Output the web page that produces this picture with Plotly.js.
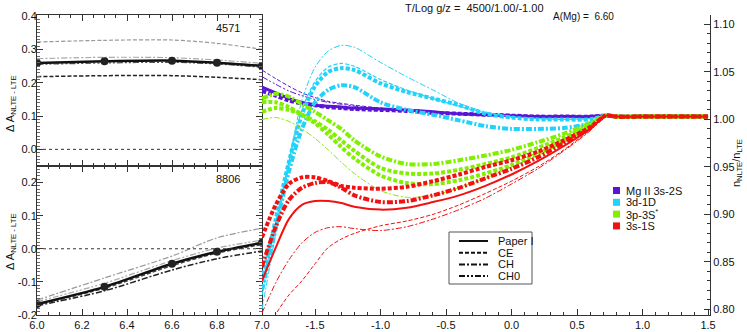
<!DOCTYPE html>
<html>
<head>
<meta charset="utf-8">
<script src="https://cdn.plot.ly/plotly-3.0.1.min.js"></script>
<style>
  html, body { margin: 0; padding: 0; background: #fff; }
  #chart { width: 747px; height: 332px; }
</style>
</head>
<body>
<div id="chart"></div>
<script>
// NLTE abundance corrections vs A(Mg) (left) and departure coefficients vs log tau (right)

// left panels: abundance grid
const abund = [6.0, 6.3, 6.6, 6.8, 7.0];

// 4571 line
const l4571_paper = [0.259, 0.264, 0.266, 0.260, 0.250];
const l4571_ce = [0.218, 0.221, 0.221, 0.216, 0.209];
const l4571_ceGrey = [0.322, 0.327, 0.328, 0.318, 0.300];
const l4571_ch = [0.272, 0.276, 0.275, 0.268, 0.258];
const l4571_ch0 = [0.255, 0.259, 0.261, 0.256, 0.246];

// 8806 line
const l8806_paper = [-0.167, -0.115, -0.045, -0.009, 0.018];
const l8806_ce = [-0.169, -0.119, -0.051, -0.013, 0.013];
const l8806_ch = [-0.155, -0.088, -0.022, 0.033, 0.062];
const l8806_ch0 = [-0.172, -0.127, -0.064, -0.030, -0.007];
const l8806_dot = [-0.160, -0.104, -0.036, 0.002, 0.026];

// right panel: log tau grid
const logTau = [-1.905, -1.8, -1.7, -1.6, -1.5, -1.4, -1.3, -1.2, -1.0, -0.8, -0.6, -0.4, -0.2, 0.0, 0.2, 0.4, 0.6, 0.72, 0.8, 1.0, 1.5];

// Mg II 3s-2S
const mg2_paper = [1.034, 1.028, 1.022, 1.018, 1.015, 1.014, 1.013, 1.012, 1.011, 1.010, 1.008, 1.006, 1.005, 1.004, 1.003, 1.003, 1.003, 1.004, 1.003, 1.003, 1.003];
const mg2_ce = [1.030, 1.025, 1.020, 1.017, 1.015, 1.013, 1.012, 1.011, 1.010, 1.009, 1.007, 1.006, 1.005, 1.004, 1.003, 1.003, 1.003, 1.004, 1.003, 1.003, 1.003];
const mg2_ch = [1.052, 1.043, 1.035, 1.028, 1.023, 1.019, 1.017, 1.015, 1.012, 1.010, 1.008, 1.006, 1.005, 1.004, 1.003, 1.003, 1.003, 1.004, 1.003, 1.003, 1.003];
const mg2_ch0 = [1.045, 1.037, 1.030, 1.025, 1.021, 1.018, 1.016, 1.014, 1.012, 1.010, 1.008, 1.006, 1.005, 1.004, 1.003, 1.003, 1.003, 1.004, 1.003, 1.003, 1.003];

// 3d-1D
const d1d_paper = [0.830, 0.895, 0.955, 1.005, 1.035, 1.050, 1.054, 1.052, 1.038, 1.029, 1.022, 1.015, 1.006, 1.002, 1.000, 1.000, 1.000, 1.004, 1.003, 1.003, 1.003];
const d1d_ce = [0.815, 0.890, 0.955, 1.010, 1.040, 1.055, 1.059, 1.056, 1.042, 1.031, 1.022, 1.014, 1.007, 1.003, 1.001, 1.000, 1.001, 1.004, 1.003, 1.003, 1.003];
const d1d_ch = [0.820, 0.885, 0.945, 0.990, 1.018, 1.031, 1.036, 1.034, 1.018, 1.010, 1.005, 0.999, 0.993, 0.990, 0.990, 0.991, 0.996, 1.004, 1.003, 1.003, 1.003];
const d1d_ch0 = [0.800, 0.880, 0.955, 1.020, 1.055, 1.072, 1.078, 1.076, 1.060, 1.045, 1.031, 1.017, 1.008, 1.003, 1.001, 1.000, 1.001, 1.004, 1.003, 1.003, 1.003];

// 3p-3S*
const p3s_paper = [1.018, 1.018, 1.013, 1.005, 0.996, 0.984, 0.971, 0.959, 0.941, 0.933, 0.932, 0.936, 0.943, 0.952, 0.964, 0.977, 0.993, 1.004, 1.003, 1.003, 1.003];
const p3s_ce = [1.008, 1.012, 1.010, 1.005, 0.998, 0.989, 0.978, 0.967, 0.949, 0.943, 0.943, 0.947, 0.953, 0.960, 0.970, 0.981, 0.994, 1.004, 1.003, 1.003, 1.003];
const p3s_ch = [1.022, 1.027, 1.024, 1.016, 1.008, 0.999, 0.990, 0.978, 0.961, 0.953, 0.953, 0.957, 0.962, 0.968, 0.976, 0.985, 0.996, 1.004, 1.003, 1.003, 1.003];
const p3s_ch0 = [1.000, 1.002, 0.998, 0.990, 0.980, 0.968, 0.955, 0.943, 0.925, 0.918, 0.920, 0.928, 0.938, 0.950, 0.962, 0.976, 0.992, 1.004, 1.003, 1.003, 1.003];

// 3s-1S
const s1s_paper = [0.830, 0.865, 0.895, 0.910, 0.914, 0.914, 0.912, 0.908, 0.905, 0.907, 0.913, 0.920, 0.930, 0.942, 0.956, 0.972, 0.990, 1.004, 1.003, 1.003, 1.003];
const s1s_ce = [0.876, 0.910, 0.932, 0.939, 0.939, 0.935, 0.930, 0.928, 0.927, 0.929, 0.935, 0.942, 0.950, 0.957, 0.966, 0.978, 0.992, 1.004, 1.003, 1.003, 1.003];
const s1s_ch = [0.845, 0.887, 0.915, 0.928, 0.933, 0.934, 0.928, 0.920, 0.913, 0.914, 0.920, 0.928, 0.938, 0.948, 0.960, 0.975, 0.991, 1.004, 1.003, 1.003, 1.003];
const s1s_ch0 = [0.796, 0.828, 0.852, 0.870, 0.881, 0.886, 0.887, 0.885, 0.883, 0.887, 0.895, 0.905, 0.917, 0.932, 0.948, 0.967, 0.988, 1.004, 1.003, 1.003, 1.003];
const s1s_ceThin = [0.770, 0.795, 0.815, 0.830, 0.848, 0.865, 0.874, 0.880, 0.888, 0.893, 0.900, 0.910, 0.922, 0.935, 0.950, 0.968, 0.989, 1.004, 1.003, 1.003, 1.003];

// legend labels
const levelNames = ['Mg II 3s-2S', '3d-1D', '3p-3S<sup>*</sup>', '3s-1S'];
const levelColors = ['#5a14d4', '#22d2fa', '#80f000', '#f21010'];
const modelNames = ['Paper I', 'CE', 'CH', 'CH0'];

// tick labels
const leftXTicks = [6.0, 6.2, 6.4, 6.6, 6.8, 7.0];
const topYTicks = [0.0, 0.1, 0.2, 0.3, 0.4];
const botYTicks = [-0.2, -0.1, 0.0, 0.1, 0.2];
const rightXTicks = [-1.5, -1.0, -0.5, 0.0, 0.5, 1.0, 1.5];
const rightYTicks = [0.80, 0.85, 0.90, 0.95, 1.00, 1.05, 1.10];

const W = 747, H = 332;
const px = x => x / W;
const py = y => 1 - y / H;
const FONT = 'Liberation Sans, Arial, Helvetica, sans-serif';

const dashes = {
    solid: 'solid',
    dash: '4px,2px',
    dashdot: '6px,2px,2px,2px',
    dashdotdot: '6px,2px,2px,2px,2px,2px'
};

const traces = [];

function addLine(x, y, xa, ya, color, dash, width, extra) {
    traces.push(Object.assign({
        x: x, y: y, xaxis: xa, yaxis: ya,
        type: 'scatter', mode: 'lines',
        line: { color: color, dash: dashes[dash], width: width, shape: 'spline', smoothing: 0.8 },
        showlegend: false, hoverinfo: 'skip'
    }, extra || {}));
}

// top-left panel (4571)
addLine(abund, l4571_ceGrey, 'x2', 'y', '#999', 'dash', 1.2);
addLine(abund, l4571_ch, 'x2', 'y', '#aaa', 'dashdot', 1.2);
addLine(abund, l4571_ch0, 'x2', 'y', '#555', 'dashdotdot', 1.2);
addLine(abund, l4571_ce, 'x2', 'y', '#222', 'dash', 1.5);
addLine(abund, l4571_paper, 'x2', 'y', '#111', 'solid', 2.5,
    { mode: 'lines+markers', marker: { size: 8, color: '#222', symbol: 'circle' } });

// bottom-left panel (8806)
addLine(abund, l8806_ch, 'x', 'y2', '#999', 'dashdot', 1.2);
addLine(abund, l8806_dot, 'x', 'y2', '#aaa', 'dashdotdot', 1.2);
addLine(abund, l8806_ce, 'x', 'y2', '#444', 'dash', 1.5);
addLine(abund, l8806_ch0, 'x', 'y2', '#222', 'dashdot', 1.5);
addLine(abund, l8806_paper, 'x', 'y2', '#111', 'solid', 2.5,
    { mode: 'lines+markers', marker: { size: 8, color: '#222', symbol: 'circle' } });

// right panel: departure coefficients
const series = [
    [mg2_ch, 0, 'dash', 1], [mg2_ch0, 0, 'dashdotdot', 1], [mg2_ce, 0, 'dash', 4], [mg2_paper, 0, 'solid', 3],
    [d1d_ch0, 1, 'dashdot', 1], [d1d_ce, 1, 'dash', 1.2], [d1d_ch, 1, 'dashdot', 4], [d1d_paper, 1, 'dash', 4],
    [p3s_ch0, 2, 'dashdot', 1], [p3s_paper, 2, 'dash', 4], [p3s_ce, 2, 'dash', 4], [p3s_ch, 2, 'dashdot', 4],
    [s1s_ceThin, 3, 'dash', 1], [s1s_ch0, 3, 'dashdot', 1], [s1s_ch, 3, 'dashdot', 4], [s1s_ce, 3, 'dash', 4], [s1s_paper, 3, 'solid', 2]
];
series.forEach(s => addLine(logTau, s[0], 'x3', 'y3', levelColors[s[1]], s[2], s[3]));

const axisBase = {
    showline: true, linecolor: '#333', linewidth: 1,
    ticks: 'inside', ticklen: 6, tickcolor: '#333', tickwidth: 1,
    showgrid: false, zeroline: false,
    tickfont: { family: FONT, size: 11, color: '#111' },
    fixedrange: true
};
const fmt = (v, d) => v.toFixed(d);

const layout = {
    width: W, height: H,
    margin: { l: 0, r: 0, t: 0, b: 0 },
    paper_bgcolor: 'white', plot_bgcolor: 'rgba(0,0,0,0)',
    font: { family: FONT, size: 11, color: '#111' },
    showlegend: false,
    xaxis: Object.assign({}, axisBase, {
        domain: [px(37), px(262)], range: [6.0, 7.0], anchor: 'y2', mirror: 'ticks',
        tickmode: 'array', tickvals: leftXTicks, ticktext: leftXTicks.map(v => fmt(v, 1)),
        minor: { ticks: 'inside', ticklen: 3, dtick: 0.05, tick0: 6.0, tickcolor: '#333' }
    }),
    xaxis2: Object.assign({}, axisBase, {
        domain: [px(37), px(262)], range: [6.0, 7.0], anchor: 'y', mirror: 'ticks',
        showticklabels: false, tickmode: 'array', tickvals: leftXTicks,
        minor: { ticks: 'inside', ticklen: 3, dtick: 0.05, tick0: 6.0, tickcolor: '#333' }
    }),
    yaxis: Object.assign({}, axisBase, {
        domain: [py(166), py(15)], range: [-0.05, 0.403], anchor: 'x2', mirror: 'ticks',
        tickmode: 'array', tickvals: topYTicks, ticktext: topYTicks.map(v => fmt(v, 1)),
        ticklabelstandoff: -3,
        minor: { ticks: 'inside', ticklen: 3, dtick: 0.01, tick0: 0, tickcolor: '#666' }
    }),
    yaxis2: Object.assign({}, axisBase, {
        domain: [py(315), py(166)], range: [-0.2, 0.25], anchor: 'x', mirror: 'ticks',
        tickmode: 'array', tickvals: botYTicks, ticktext: botYTicks.map(v => fmt(v, 1)),
        ticklabelstandoff: -3,
        minor: { ticks: 'inside', ticklen: 3, dtick: 0.01, tick0: 0, tickcolor: '#666' }
    }),
    xaxis3: Object.assign({}, axisBase, {
        domain: [px(262), px(710)], range: [-1.905, 1.515], anchor: 'y3',
        tickmode: 'array', tickvals: rightXTicks, ticktext: rightXTicks.map(v => fmt(v, 1)),
        minor: { ticks: 'inside', ticklen: 3, dtick: 0.1, tick0: 0, tickcolor: '#333' }
    }),
    yaxis3: Object.assign({}, axisBase, {
        domain: [py(315), py(15)], range: [0.794, 1.11], anchor: 'x3', side: 'right',
        tickmode: 'array', tickvals: rightYTicks, ticktext: rightYTicks.map(v => fmt(v, 2)),
        minor: { ticks: 'inside', ticklen: 3, dtick: 0.01, tick0: 0, tickcolor: '#333' }
    }),
    shapes: [
        { type: 'line', xref: 'x2 domain', yref: 'y', x0: 0, x1: 1, y0: 0, y1: 0,
          line: { color: '#333', width: 1, dash: 'dot' } },
        { type: 'line', xref: 'x domain', yref: 'y2', x0: 0, x1: 1, y0: 0, y1: 0,
          line: { color: '#333', width: 1, dash: 'dot' } },
        // line-style key box
        { type: 'rect', xref: 'paper', yref: 'paper', x0: px(449), x1: px(532), y0: py(284), y1: py(232),
          line: { color: '#555', width: 1 }, fillcolor: 'white' }
    ],
    annotations: [
        { xref: 'paper', yref: 'paper', x: px(474), y: py(8), text: 'T/Log g/z =  4500/1.00/-1.00',
          showarrow: false, font: { size: 11 }, xanchor: 'center', yanchor: 'middle' },
        { xref: 'paper', yref: 'paper', x: px(551), y: py(16), text: 'A(Mg) =  6.60',
          showarrow: false, font: { size: 10 }, xanchor: 'left', yanchor: 'middle' },
        { xref: 'x2', yref: 'y', x: 6.85, y: 0.364, text: '4571', showarrow: false, font: { size: 11 } },
        { xref: 'x', yref: 'y2', x: 6.85, y: 0.21, text: '8806', showarrow: false, font: { size: 11 } },
        { xref: 'paper', yref: 'paper', x: px(2), y: py(104), text: '\u0394 A<sub>NLTE - LTE</sub>',
          textangle: -90, showarrow: false, xanchor: 'left', yanchor: 'middle', font: { size: 11 } },
        { xref: 'paper', yref: 'paper', x: px(2), y: py(242), text: '\u0394 A<sub>NLTE - LTE</sub>',
          textangle: -90, showarrow: false, xanchor: 'left', yanchor: 'middle', font: { size: 11 } },
        { xref: 'paper', yref: 'paper', x: px(746), y: py(163), text: 'n<sub>NLTE</sub>/n<sub>LTE</sub>',
          textangle: -90, showarrow: false, xanchor: 'right', yanchor: 'middle', font: { size: 11 } }
    ]
};

// colour key
levelNames.forEach((name, i) => {
    const yc = 190.5 + i * 11.8;
    layout.shapes.push({ type: 'rect', xref: 'paper', yref: 'paper',
        x0: px(613), x1: px(620), y0: py(yc + 3.5), y1: py(yc - 3.5),
        line: { width: 0 }, fillcolor: levelColors[i] });
    layout.annotations.push({ xref: 'paper', yref: 'paper', x: px(624), y: py(yc), text: name,
        showarrow: false, xanchor: 'left', yanchor: 'middle', font: { size: 11 } });
});

// line-style key
const keyDash = ['solid', 'dash', 'dashdot', 'dashdotdot'];
modelNames.forEach((name, i) => {
    const yc = 241 + i * 11.7;
    layout.shapes.push({ type: 'line', xref: 'paper', yref: 'paper',
        x0: px(459), x1: px(488), y0: py(yc), y1: py(yc),
        line: { color: '#111', width: 2, dash: dashes[keyDash[i]] } });
    layout.annotations.push({ xref: 'paper', yref: 'paper', x: px(496), y: py(yc), text: name,
        showarrow: false, xanchor: 'left', yanchor: 'middle', font: { size: 11 } });
});

Plotly.newPlot('chart', traces, layout, { staticPlot: true, displayModeBar: false });
</script>
</body>
</html>
